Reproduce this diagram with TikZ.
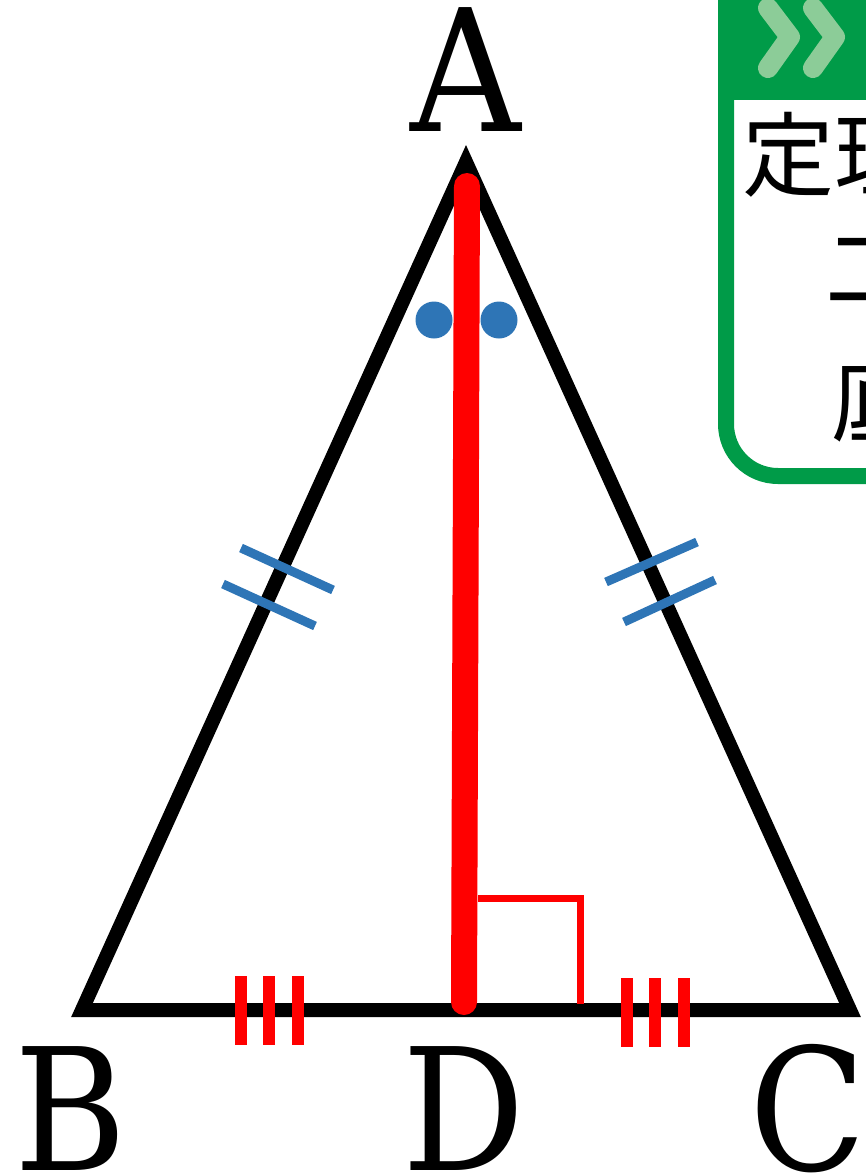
\documentclass[tikz,border=0pt]{standalone}
\usepackage{fontspec}
\setmainfont{DejaVu Serif Condensed}
\newfontfamily\jpfont{Noto Sans CJK JP}
\usetikzlibrary{calc}
\definecolor{tickblue}{RGB}{46,117,182}
\definecolor{boxgreen}{RGB}{0,155,72}
\definecolor{chevgreen}{RGB}{140,204,152}

\begin{document}
\begin{tikzpicture}[x=1pt, y=-1pt,
    side/.style={line width=14pt, line join=miter},
    median/.style={red, line width=26pt, line cap=round},
    eqmark/.style={tickblue, line width=9pt},
    basemark/.style={red, line width=12pt},
    vlabel/.style={font=\fontsize{170}{170}\selectfont, inner sep=0pt, anchor=base},
    jtext/.style={font=\jpfont\fontsize{92}{92}\selectfont, inner sep=0pt, anchor=west}
  ]
    \useasboundingbox (0,0) rectangle (866,1176);
    \clip (0,0) rectangle (866,1176);
    % vertices
    \coordinate (A) at (466,162);
    \coordinate (B) at (82,1010);
    \coordinate (C) at (850,1010);
    \coordinate (D) at (464,1002);
    \coordinate (Atop) at (467,186);
    % triangle and median
    \draw[side] (A) -- (B) -- (C) -- cycle;
    \draw[median] (Atop) -- (D);
    \draw[red, line width=7pt] (478,898) -- (580,898) -- (580,1004);
    % equal angles
    \fill[tickblue] (434,320) circle (18.5pt);
    \fill[tickblue] (499,320) circle (18.5pt);
    % equal sides AB = AC
    \draw[eqmark] (241,548) -- (333,590);
    \draw[eqmark] (223,584) -- (315,626);
    \draw[eqmark] (606,582) -- (697,542);
    \draw[eqmark] (624,622) -- (715,580);
    % BD = DC
    \foreach \x in {241,269,298} \draw[basemark] (\x,976) -- (\x,1045);
    \foreach \x in {627,655,684} \draw[basemark] (\x,978) -- (\x,1047);
    % labels
    \node[vlabel] (labA) at (466,131) {A};
    \node[vlabel] (labB) at (71,1170) {B};
    \node[vlabel] (labD) at (464,1170) {D};
    \node[vlabel] (labC) at (808,1170) {C};
    % theorem box
    \fill[boxgreen] (718,-20) rectangle (900,100);
    \draw[boxgreen, line width=16pt, rounded corners=52pt] (726,80) -- (726,476) -- (900,476);
    \foreach \dx in {0,45}
      \draw[chevgreen, line width=20pt, line cap=round, line join=round]
        (768+\dx,8) -- (790+\dx,37) -- (768+\dx,68);
    \node[jtext] (thm) at (742,155) {定理};
    \node[jtext] (line1) at (825,268) {二等辺三角形の頂角の二等分線は};
    \node[jtext] (line2) at (831,400) {底辺を垂直に二等分する};
  \end{tikzpicture}
\end{document}
